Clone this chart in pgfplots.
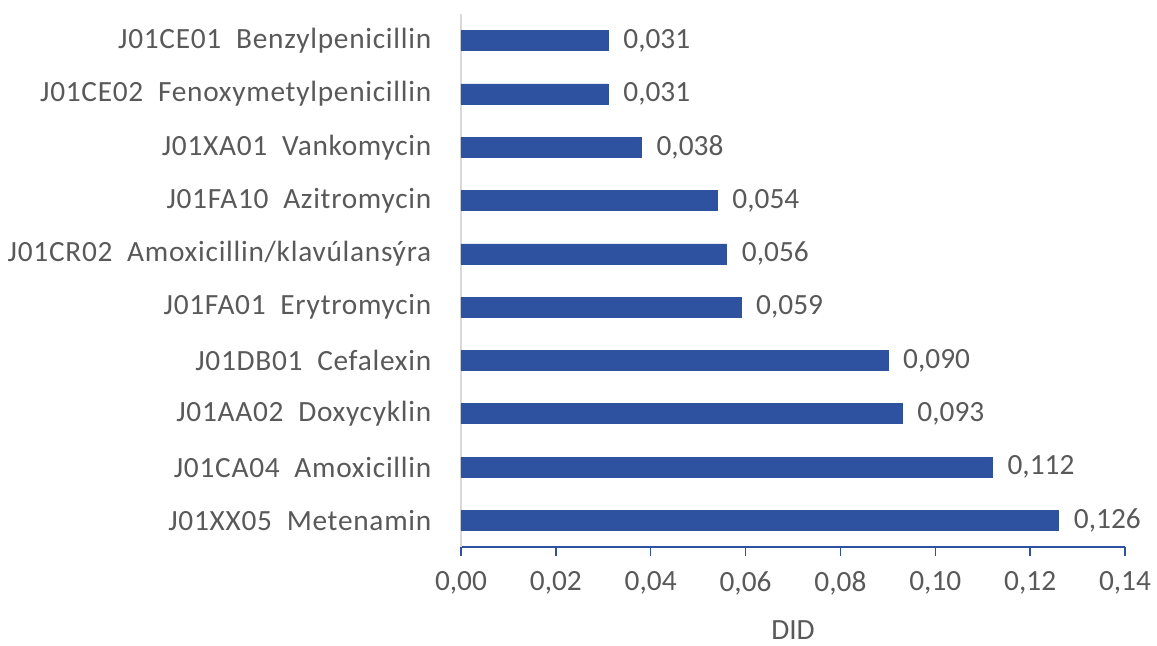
\documentclass[border=0pt]{standalone}
\usepackage{pgfplots}
\pgfplotsset{compat=1.18}
\usepackage{fontspec}
\setmainfont{Carlito}
\newfontfamily\labfont[LetterSpace=2.5]{Carlito}
\definecolor{barblue}{HTML}{2F52A0}
\definecolor{txtgray}{HTML}{595959}
\definecolor{axgray}{HTML}{D9D9D9}
\begin{document}
\begin{tikzpicture}[x=1pt,y=1pt]
\fontsize{22}{26}\selectfont
\path[use as bounding box] (-345.75pt,-74.25pt) rectangle (522pt,410.25pt);
\begin{axis}[
  at={(0,0)}, anchor=south west,
  scale only axis,
  width=498pt, height=399.75pt,
  xbar, bar width=15pt,
  xmin=0, xmax=0.14,
  ymin=-0.5, ymax=9.5,
  axis lines*=left,
  x axis line style={draw=barblue, line width=1.1pt},
  y axis line style={draw=axgray, line width=1.5pt},
  xtick={0,0.02,...,0.14},
  xtick style={draw=barblue, line width=1.1pt},
  tick align=outside,
  major tick length=6.75pt,
  ytick={0,...,9},
  ytick style={draw=none},
  yticklabels={J01XX05\ \ Metenamin, J01CA04\ \ Amoxicillin, J01AA02\ \ Doxycyklin, J01DB01\ \ Cefalexin, J01FA01\ \ Erytromycin, J01CR02\ \ Amoxicillin/klavúlansýra, J01FA10\ \ Azitromycin, J01XA01\ \ Vankomycin, J01CE02\ \ Fenoxymetylpenicillin, J01CE01\ \ Benzylpenicillin},
  yticklabel style={font=\labfont\fontsize{22}{26}\selectfont, text=txtgray, xshift=-8pt},
  xticklabel style={font=\fontsize{22}{26}\selectfont, text=txtgray, yshift=-4pt, /pgf/number format/.cd, fixed, fixed zerofill, precision=2, use comma},
  /pgf/number format/assume math mode=true,
  scaled x ticks=false,
  xlabel={DID},
  xlabel style={font=\fontsize{22}{26}\selectfont, text=txtgray, inner sep=0pt, at={(axis description cs:0.5,0)}, anchor=center, yshift=-62pt},
  nodes near coords,
  nodes near coords align={horizontal},
  every node near coord/.append style={font=\fontsize{22}{26}\selectfont, text=txtgray, xshift=4pt, /pgf/number format/.cd, fixed, fixed zerofill, precision=3, use comma, assume math mode=true},
  clip=false,
]
\addplot[fill=barblue, draw=barblue] coordinates {
(0.126,0) (0.112,1) (0.093,2) (0.090,3) (0.059,4) (0.056,5) (0.054,6) (0.038,7) (0.031,8) (0.031,9)
};
\end{axis}
\end{tikzpicture}
\end{document}
